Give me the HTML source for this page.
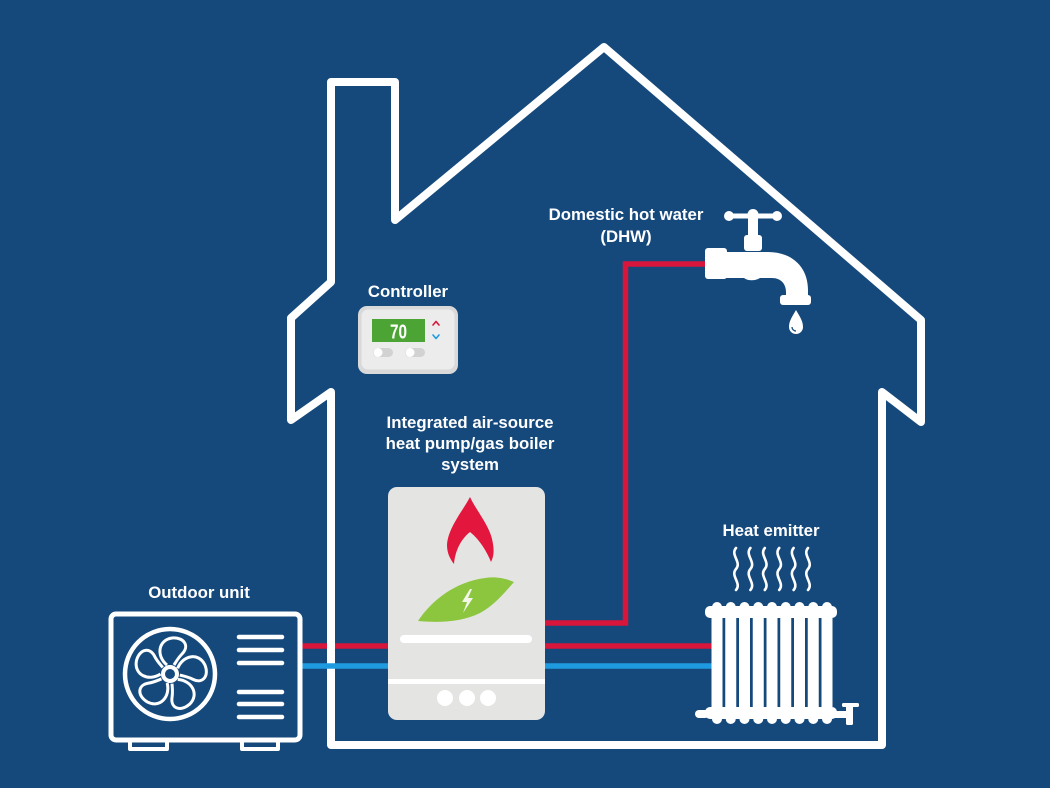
<!DOCTYPE html>
<html>
<head>
<meta charset="utf-8">
<style>
  html,body{margin:0;padding:0;background:#15497c;}
  svg{display:block;}
  text{font-family:"Liberation Sans",Arial,sans-serif;font-weight:bold;fill:#fff;}
</style>
</head>
<body>
<svg width="1050" height="788" viewBox="0 0 1050 788" xmlns="http://www.w3.org/2000/svg">
  <rect x="0" y="0" width="1050" height="788" fill="#15497c"/>

  <!-- pipes under wall (red) -->
  <line x1="300" y1="646" x2="390" y2="646" stroke="#d8163b" stroke-width="5.5"/>

  <!-- House outline -->
  <path d="M331,745 L331,392 L291,420 L291,318 L331,282 L331,82 L395,82 L395,220 L604,47 L921,320 L921,422 L882,392 L882,745 Z"
        fill="none" stroke="#fff" stroke-width="8" stroke-linejoin="round"/>

  <!-- blue pipe left (over wall) -->
  <line x1="300" y1="666" x2="390" y2="666" stroke="#1e9be0" stroke-width="5.5"/>

  <!-- right pipes -->
  <line x1="543" y1="646" x2="712" y2="646" stroke="#d8163b" stroke-width="5.5"/>
  <line x1="543" y1="666" x2="712" y2="666" stroke="#1e9be0" stroke-width="5.5"/>
  <path d="M543,623 H625.5 V264 H708" fill="none" stroke="#d8163b" stroke-width="5.5"/>

  <!-- Labels -->
  <text x="626" y="220" font-size="16.8" text-anchor="middle">Domestic hot water</text>
  <text x="626" y="242" font-size="16.8" text-anchor="middle">(DHW)</text>
  <text x="408" y="297" font-size="16.8" text-anchor="middle">Controller</text>
  <text x="470" y="428" font-size="16.8" text-anchor="middle">Integrated air-source</text>
  <text x="470" y="449" font-size="16.8" text-anchor="middle">heat pump/gas boiler</text>
  <text x="470" y="470" font-size="16.8" text-anchor="middle">system</text>
  <text x="771" y="536" font-size="16.8" text-anchor="middle">Heat emitter</text>
  <text x="199" y="598" font-size="16.8" text-anchor="middle">Outdoor unit</text>

  <!-- Controller -->
  <rect x="358" y="306" width="100" height="68" rx="9" fill="#d9d9d9"/>
  <rect x="361.5" y="309.5" width="93" height="60" rx="6.5" fill="#ececec"/>
  <rect x="372" y="319" width="53" height="23" fill="#4ba433"/>
  <text x="398.5" y="338.5" font-size="20" text-anchor="middle" textLength="17" lengthAdjust="spacingAndGlyphs">70</text>
  <polyline points="433,325 436,321.5 439,325" fill="none" stroke="#d8163b" stroke-width="1.6" stroke-linecap="round" stroke-linejoin="round"/>
  <polyline points="433,335 436,338.5 439,335" fill="none" stroke="#1e9be0" stroke-width="1.6" stroke-linecap="round" stroke-linejoin="round"/>
  <rect x="373" y="348" width="20" height="9" rx="4.5" fill="#d2d2d2"/>
  <circle cx="378" cy="352.5" r="4.5" fill="#fff"/>
  <rect x="405" y="348" width="20" height="9" rx="4.5" fill="#d2d2d2"/>
  <circle cx="410" cy="352.5" r="4.5" fill="#fff"/>

  <!-- Tap -->
  <g fill="#fff">
    <line x1="729" y1="216" x2="777" y2="216" stroke="#fff" stroke-width="5" stroke-linecap="round"/>
    <circle cx="729" cy="216" r="5"/>
    <circle cx="777" cy="216" r="5"/>
    <circle cx="753" cy="214.5" r="5.5"/>
    <rect x="748" y="216" width="10" height="22"/>
    <rect x="744" y="235" width="18" height="16" rx="3"/>
    <rect x="705" y="248" width="22" height="31" rx="3"/>
    <path d="M724,252 H768 C792,252 808,267 808,290 V299 H786 V292 C786,284 781,278 772,278 H760 C755,281 748,281 744,278 H724 Z"/>
    <rect x="780" y="295" width="31" height="10" rx="3"/>
    <path d="M796,310 C792,317 789,321 789,327 A7,7 0 0 0 803,327 C803,321 800,317 796,310 Z"/>
  </g>
  <path d="M792,327 A4,4 0 0 0 796,331" fill="none" stroke="#15497c" stroke-width="1.3"/>

  <!-- Boiler -->
  <rect x="388" y="487" width="157" height="233" rx="9" fill="#e4e4e2"/>
  <path d="M470,497 C462,512 448,528 447,545 C447,553 450,559 454,564 C455,552 460,540 470,532 C480,540 487,552 491,562 C494,556 494,550 493,544 C491,527 477,512 470,497 Z" fill="#e3173d"/>
  <path d="M418,621 C432,600 455,582 485,578 C497,576 507,579 514,582 C505,592 495,605 480,613 C462,622 440,623 418,621 Z" fill="#8cc63e"/>
  <path d="M470,589 L462,602 L467,602 L463,613 L473,598 L468,598 L472,589 Z" fill="#f3f7ea"/>
  <rect x="400" y="635" width="132" height="8" rx="4" fill="#fff"/>
  <rect x="388" y="679" width="157" height="5" fill="#fff"/>
  <circle cx="445" cy="698" r="8" fill="#fff"/>
  <circle cx="467" cy="698" r="8" fill="#fff"/>
  <circle cx="488" cy="698" r="8" fill="#fff"/>

  <!-- Radiator -->
  <g fill="#fff">
    <rect x="705" y="606" width="132" height="12" rx="5"/>
    <circle cx="717" cy="607" r="5"/>
    <circle cx="730.75" cy="607" r="5"/>
    <circle cx="744.5" cy="607" r="5"/>
    <circle cx="758.25" cy="607" r="5"/>
    <circle cx="772" cy="607" r="5"/>
    <circle cx="785.75" cy="607" r="5"/>
    <circle cx="799.5" cy="607" r="5"/>
    <circle cx="813.25" cy="607" r="5"/>
    <circle cx="827" cy="607" r="5"/>
    <rect x="711.5" y="612" width="11" height="100"/>
    <rect x="725.25" y="612" width="11" height="100"/>
    <rect x="739" y="612" width="11" height="100"/>
    <rect x="752.75" y="612" width="11" height="100"/>
    <rect x="766.5" y="612" width="11" height="100"/>
    <rect x="780.25" y="612" width="11" height="100"/>
    <rect x="794" y="612" width="11" height="100"/>
    <rect x="807.75" y="612" width="11" height="100"/>
    <rect x="821.5" y="612" width="11" height="100"/>
    <rect x="705" y="707" width="132" height="12" rx="5"/>
    <circle cx="717" cy="719" r="5"/>
    <circle cx="730.75" cy="719" r="5"/>
    <circle cx="744.5" cy="719" r="5"/>
    <circle cx="758.25" cy="719" r="5"/>
    <circle cx="772" cy="719" r="5"/>
    <circle cx="785.75" cy="719" r="5"/>
    <circle cx="799.5" cy="719" r="5"/>
    <circle cx="813.25" cy="719" r="5"/>
    <circle cx="827" cy="719" r="5"/>
    <rect x="695" y="710" width="14" height="8" rx="4"/>
    <rect x="835" y="711" width="14" height="7"/>
    <rect x="846" y="704" width="7" height="21" rx="1.5"/>
    <rect x="842" y="703" width="17" height="4" rx="1.5"/>
  </g>
  <!-- heat waves -->
  <g fill="none" stroke="#fff" stroke-width="2.6" stroke-linecap="round">
    <path d="M736,548 C730,555 742,562 736,569 C730,576 742,583 736,590"/>
    <path d="M750.4,548 C744.4,555 756.4,562 750.4,569 C744.4,576 756.4,583 750.4,590"/>
    <path d="M764.8,548 C758.8,555 770.8,562 764.8,569 C758.8,576 770.8,583 764.8,590"/>
    <path d="M779.2,548 C773.2,555 785.2,562 779.2,569 C773.2,576 785.2,583 779.2,590"/>
    <path d="M793.6,548 C787.6,555 799.6,562 793.6,569 C787.6,576 799.6,583 793.6,590"/>
    <path d="M808,548 C802,555 814,562 808,569 C802,576 814,583 808,590"/>
  </g>

  <!-- Outdoor unit -->
  <rect x="111" y="614" width="189" height="126" rx="5" fill="none" stroke="#fff" stroke-width="5"/>
  <path d="M130,741 V749 H167 V741" fill="none" stroke="#fff" stroke-width="4" stroke-linejoin="round"/>
  <path d="M242,741 V749 H278 V741" fill="none" stroke="#fff" stroke-width="4" stroke-linejoin="round"/>
  <circle cx="170" cy="674" r="45" fill="none" stroke="#fff" stroke-width="4.5"/>
  <g fill="none" stroke="#fff" stroke-width="3" stroke-linejoin="round" transform="translate(170,674)">
    <path d="M-3,-9 C-14,-18 -12,-34 2,-36 C14,-37 20,-28 12,-20 C8,-16 6,-12 4,-9"/>
    <path d="M-3,-9 C-14,-18 -12,-34 2,-36 C14,-37 20,-28 12,-20 C8,-16 6,-12 4,-9" transform="rotate(72)"/>
    <path d="M-3,-9 C-14,-18 -12,-34 2,-36 C14,-37 20,-28 12,-20 C8,-16 6,-12 4,-9" transform="rotate(144)"/>
    <path d="M-3,-9 C-14,-18 -12,-34 2,-36 C14,-37 20,-28 12,-20 C8,-16 6,-12 4,-9" transform="rotate(216)"/>
    <path d="M-3,-9 C-14,-18 -12,-34 2,-36 C14,-37 20,-28 12,-20 C8,-16 6,-12 4,-9" transform="rotate(288)"/>
  </g>
  <circle cx="170" cy="674" r="7" fill="#15497c" stroke="#fff" stroke-width="4"/>
  <g stroke="#fff" stroke-width="4.5" stroke-linecap="round">
    <line x1="239" y1="637" x2="282" y2="637"/>
    <line x1="239" y1="650" x2="282" y2="650"/>
    <line x1="239" y1="663" x2="282" y2="663"/>
    <line x1="239" y1="692" x2="282" y2="692"/>
    <line x1="239" y1="704" x2="282" y2="704"/>
    <line x1="239" y1="717" x2="282" y2="717"/>
  </g>
</svg>
</body>
</html>
